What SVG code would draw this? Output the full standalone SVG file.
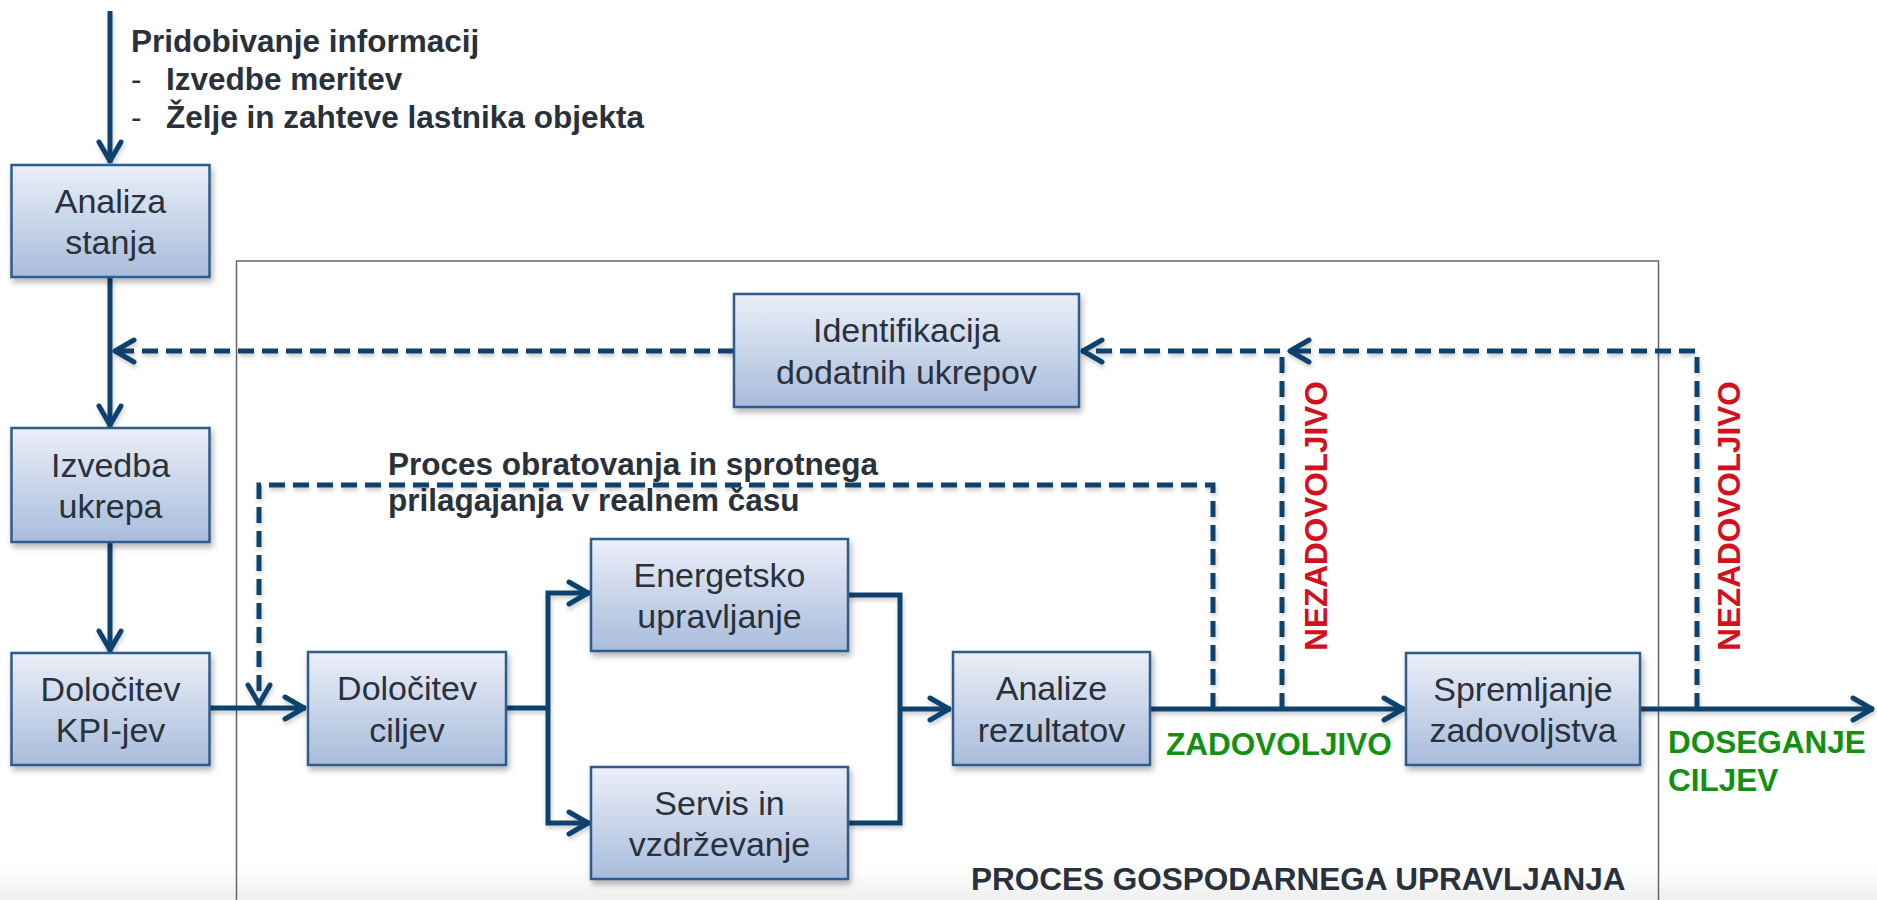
<svg xmlns="http://www.w3.org/2000/svg" width="1877" height="900" viewBox="0 0 1877 900">
<style>
.box{fill:url(#g);stroke:#2f5c8c;stroke-width:2.5;filter:url(#sh)}
.bt{font-family:"Liberation Sans",Arial,sans-serif;font-size:34px;fill:#28313c;text-anchor:middle}
.lb{font-family:"Liberation Sans",Arial,sans-serif;font-size:31.5px;font-weight:bold;fill:#28313c}
.rg{font-family:"Liberation Sans",Arial,sans-serif;font-size:31.5px;fill:#28313c}
.green{fill:#12900f}
.red{fill:#d3101c}
.c{fill:none;stroke:#0e426e;stroke-width:5}
.d{stroke-dasharray:16 8}
.a{marker-end:url(#ar)}
</style>
<defs>
<linearGradient id="g" x1="0" y1="0" x2="0" y2="1">
<stop offset="0" stop-color="#ebeff8"/>
<stop offset="1" stop-color="#a8bcdb"/>
</linearGradient>
<linearGradient id="bg" x1="0" y1="0" x2="0" y2="1">
<stop offset="0" stop-color="#ffffff"/>
<stop offset="1" stop-color="#efefef"/>
</linearGradient>
<filter id="sh" x="-10%" y="-10%" width="130%" height="140%">
<feDropShadow dx="2" dy="4" stdDeviation="3" flood-color="#000" flood-opacity="0.3"/>
</filter>
<filter id="lsh" filterUnits="userSpaceOnUse" x="0" y="0" width="1877" height="900">
<feDropShadow dx="1" dy="3" stdDeviation="2" flood-color="#000" flood-opacity="0.2"/>
</filter>
<marker id="ar" viewBox="-24 -14 28 28" markerWidth="28" markerHeight="28" refX="0" refY="0" orient="auto" markerUnits="userSpaceOnUse">
<path d="M-21,-11 L-2,0 L-21,11" fill="none" stroke="#0e426e" stroke-width="5" stroke-linejoin="round" stroke-linecap="round" stroke-dasharray="none"/>
</marker>
</defs>
<rect x="0" y="868" width="1877" height="32" fill="url(#bg)"/>
<rect id="frame" x="236.5" y="261" width="1422" height="700" fill="none" stroke="#666" stroke-width="1.5"/>

<g id="connectors" filter="url(#lsh)">
<path class="c a" d="M110,11 V163"/>
<path class="c a" d="M110,277 V427"/>
<path class="c a" d="M110,542 V652"/>
<path class="c a" d="M210,708 H306"/>
<path class="c d a" d="M1213,709 V485 H259 V706"/>
<path class="c" d="M506,708 H548"/>
<path class="c a" d="M548,708 V593 H590"/>
<path class="c a" d="M548,708 V823 H590"/>
<path class="c" d="M848,595 H900 V823 H848"/>
<path class="c a" d="M900,709 H951"/>
<path class="c a" d="M1150,709 H1405"/>
<path class="c a" d="M1640,709 H1874"/>
<path class="c d a" d="M734,351 H113"/>
<path class="c d a" d="M1282,709 V351 H1081"/>
<path class="c d a" d="M1697,709 V351 H1288"/>
</g>

<g id="n-analiza-stanja">
<rect class="box" x="11.5" y="165" width="198" height="112"/>
<text class="bt" x="110.5" y="212.5">Analiza</text>
<text class="bt" x="110.5" y="254">stanja</text>
</g>
<g id="n-izvedba-ukrepa">
<rect class="box" x="11.5" y="428" width="198" height="114"/>
<text class="bt" x="110.5" y="476.5">Izvedba</text>
<text class="bt" x="110.5" y="518">ukrepa</text>
</g>
<g id="n-kpi">
<rect class="box" x="11.5" y="653" width="198" height="112"/>
<text class="bt" x="110.5" y="700.5">Določitev</text>
<text class="bt" x="110.5" y="742">KPI-jev</text>
</g>
<g id="n-ciljev">
<rect class="box" x="308" y="652" width="198" height="113"/>
<text class="bt" x="407" y="700">Določitev</text>
<text class="bt" x="407" y="741.5">ciljev</text>
</g>
<g id="n-energetsko">
<rect class="box" x="591" y="539" width="257" height="112"/>
<text class="bt" x="719.5" y="586.5">Energetsko</text>
<text class="bt" x="719.5" y="628">upravljanje</text>
</g>
<g id="n-servis">
<rect class="box" x="591" y="767" width="257" height="112"/>
<text class="bt" x="719.5" y="814.5">Servis in</text>
<text class="bt" x="719.5" y="856">vzdrževanje</text>
</g>
<g id="n-analize">
<rect class="box" x="953" y="652" width="197" height="113"/>
<text class="bt" x="1051.5" y="700">Analize</text>
<text class="bt" x="1051.5" y="741.5">rezultatov</text>
</g>
<g id="n-spremljanje">
<rect class="box" x="1406" y="653" width="234" height="112"/>
<text class="bt" x="1523" y="700.5">Spremljanje</text>
<text class="bt" x="1523" y="742">zadovoljstva</text>
</g>
<g id="n-identifikacija">
<rect class="box" x="734" y="294" width="345" height="113"/>
<text class="bt" x="906.5" y="342">Identifikacija</text>
<text class="bt" x="906.5" y="383.5">dodatnih ukrepov</text>
</g>

<g id="labels">
<text class="lb" x="131" y="52">Pridobivanje informacij</text>
<text class="rg" x="131" y="90">-</text>
<text class="lb" x="166" y="90">Izvedbe meritev</text>
<text class="rg" x="131" y="128">-</text>
<text class="lb" x="166" y="128">Želje in zahteve lastnika objekta</text>
<text class="lb" x="388" y="475">Proces obratovanja in sprotnega</text>
<text class="lb" x="388" y="511">prilagajanja v realnem času</text>
<text class="lb green" x="1166" y="755">ZADOVOLJIVO</text>
<text class="lb green" x="1668" y="753">DOSEGANJE</text>
<text class="lb green" x="1668" y="791">CILJEV</text>
<text class="lb red" text-anchor="middle" transform="translate(1327,516) rotate(-90)">NEZADOVOLJIVO</text>
<text class="lb red" text-anchor="middle" transform="translate(1740,516) rotate(-90)">NEZADOVOLJIVO</text>
<text class="lb" x="971" y="890">PROCES GOSPODARNEGA UPRAVLJANJA</text>
</g>
</svg>
